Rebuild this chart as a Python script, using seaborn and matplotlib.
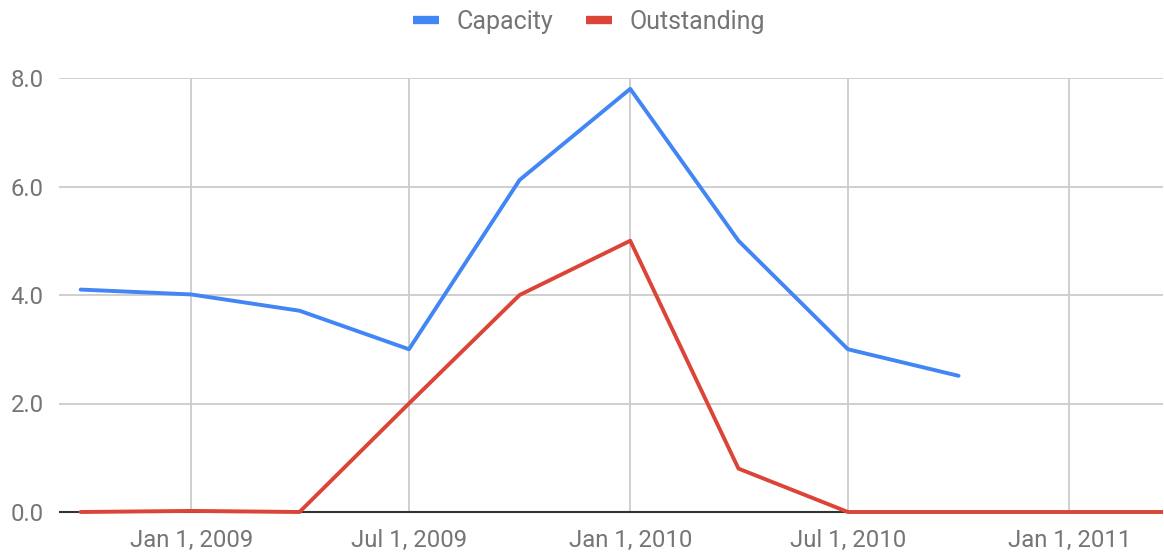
import pandas as pd
import matplotlib
matplotlib.use("Agg")
import matplotlib.pyplot as plt
from matplotlib.lines import Line2D
import seaborn as sns

dates = pd.to_datetime(["2008-10-01", "2009-01-01", "2009-04-01", "2009-07-01",
                        "2009-10-01", "2010-01-01", "2010-04-01", "2010-07-01",
                        "2010-10-01", "2011-01-01", "2011-04-01"])
capacity = [4.1, 4.01, 3.71, 3.0, 6.12, 7.8, 5.0, 3.0, 2.51, None, None]
outstanding = [0.0, 0.02, 0.0, 2.0, 4.0, 5.0, 0.8, 0.0, 0.0, 0.0, 0.0]

df = pd.DataFrame({"date": dates, "Capacity": capacity, "Outstanding": outstanding})
long = df.melt(id_vars="date", var_name="series", value_name="value").dropna()

blue = "#4285F4"
red = "#DB4437"
grey_txt = "#757575"

sns.set_style("white")
plt.rcParams["font.family"] = ["Roboto", "DejaVu Sans"]

# y range padded slightly below zero so the line on the baseline is not clipped
fig = plt.figure(figsize=(11.64, 5.55), dpi=100)
ax = fig.add_axes([59 / 1164, 40 / 555, 1104 / 1164, 437 / 555])

sns.lineplot(data=long, x="date", y="value", hue="series",
             palette={"Capacity": blue, "Outstanding": red},
             linewidth=2.8, legend=False, ax=ax, zorder=3)

ax.set_xlim(pd.Timestamp("2008-09-13"), pd.Timestamp("2011-03-20"))
ax.set_ylim(-3 / 54.25, 8)
ax.set_yticks([0, 2, 4, 6, 8])
ax.yaxis.set_major_formatter(matplotlib.ticker.FormatStrFormatter("%.1f"))
ticks = pd.to_datetime(["2009-01-01", "2009-07-01", "2010-01-01", "2010-07-01", "2011-01-01"])
ax.set_xticks(ticks)
ax.set_xticklabels([t.strftime("%b %-d, %Y") for t in ticks])

ax.grid(True, axis="y", color="#cccccc", linewidth=1.3)
ax.vlines(ticks, 0, 8, color="#cccccc", linewidth=1.3, zorder=1)
ax.set_axisbelow(True)
for s in ax.spines.values():
    s.set_visible(False)
ax.axhline(0, color="#333333", linewidth=1.5, zorder=2)
ax.tick_params(axis="both", length=0, labelsize=17.2, labelcolor=grey_txt)
ax.tick_params(axis="x", pad=10)
ax.tick_params(axis="y", pad=11)
ax.set_xlabel("")
ax.set_ylabel("")

handles = [Line2D([], [], color=blue, linewidth=6, solid_capstyle="butt"),
           Line2D([], [], color=red, linewidth=6, solid_capstyle="butt")]
leg = fig.legend(handles, ["Capacity", "Outstanding"], loc="center",
                 bbox_to_anchor=(0.5 + 7 / 1164, 1 - 22 / 555), ncol=2, frameon=False,
                 fontsize=18, handlelength=1.05, handletextpad=0.7, columnspacing=1.3)
for t in leg.get_texts():
    t.set_color(grey_txt)

fig.savefig("out.png", dpi=100)
